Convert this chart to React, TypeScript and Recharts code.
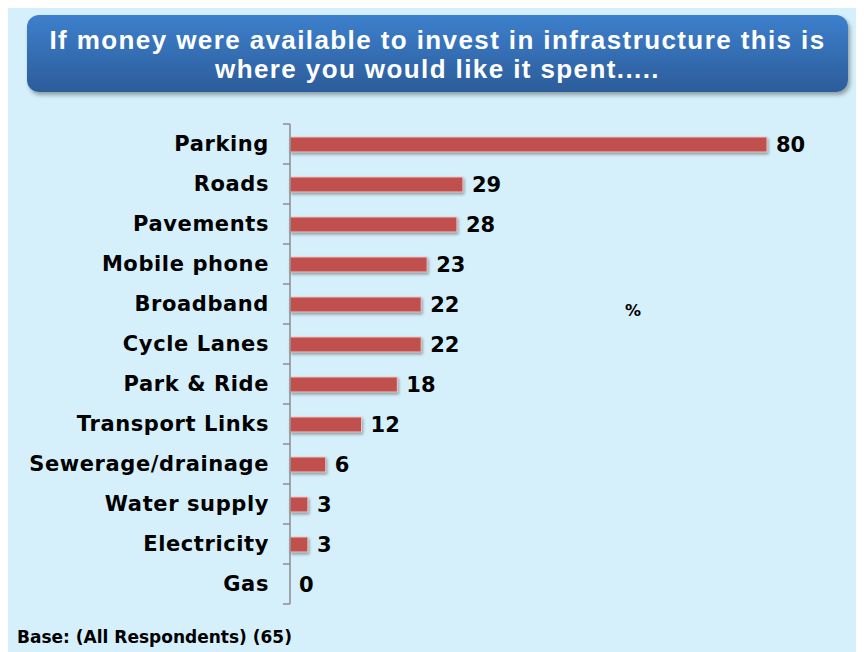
import { BarChart, Bar, XAxis, YAxis, LabelList } from 'recharts';

const categories = [
  'Parking',
  'Roads',
  'Pavements',
  'Mobile phone',
  'Broadband',
  'Cycle Lanes',
  'Park & Ride',
  'Transport Links',
  'Sewerage/drainage',
  'Water supply',
  'Electricity',
  'Gas',
];
const percentages = [80, 29, 28, 23, 22, 22, 18, 12, 6, 3, 3, 0];

const titleLines = [
  'If money were available to invest in infrastructure this is',
  'where you would like it spent.....',
];
const baseNote = 'Base: (All Respondents) (65)';
const unitLabel = '%';

const data = categories.map((name, i) => ({ name, value: percentages[i] }));

const FONT = '"DejaVu Sans", Verdana, sans-serif';
const BAND = 40;

const CategoryTick = (props: any) => {
  const { x, y, payload, index } = props;
  const axisX = x + 14 + 7;
  return (
    <g>
      <line x1={axisX - 7} x2={axisX} y1={y - BAND / 2} y2={y - BAND / 2} stroke="#8c8c8c" strokeWidth={1.5} />
      {index === categories.length - 1 && (
        <line x1={axisX - 7} x2={axisX} y1={y + BAND / 2} y2={y + BAND / 2} stroke="#8c8c8c" strokeWidth={1.5} />
      )}
      <text
        x={x}
        y={y}
        textAnchor="end"
        dominantBaseline="central"
        fill="#000"
        fontFamily={FONT}
        fontWeight="bold"
        fontSize={21}
        letterSpacing={0.6}
      >
        {payload.value}
      </text>
    </g>
  );
};

const ShadowBar = (props: any) => {
  const { x, y, width, height } = props;
  if (!width || width <= 0) return <g />;
  return (
    <rect
      x={x}
      y={y}
      width={width}
      height={height}
      fill="#C0504D"
      stroke="#F0C8C6"
      strokeWidth={1}
      style={{ filter: 'drop-shadow(1.5px 2px 1.5px rgba(0,0,0,0.35))' }}
    />
  );
};

export default function App() {
  return (
    <div
      style={{
        position: 'relative',
        marginTop: -4,
        width: 856,
        height: 648,
        background: '#D6F0FB',
        fontFamily: FONT,
      }}
    >
      <div
        style={{
          position: 'absolute',
          left: 19,
          top: 11,
          width: 821,
          height: 77,
          borderRadius: 12,
          background: 'linear-gradient(to bottom, #3D80CD, #2C5C9A)',
          boxShadow: '2px 3px 4px rgba(0,0,0,0.35)',
          color: '#fff',
          textAlign: 'center',
          fontFamily: '"Liberation Sans", Arial, sans-serif',
          fontWeight: 'bold',
          fontSize: 26,
          letterSpacing: 1.4,
          lineHeight: '29px',
          paddingTop: 11,
          boxSizing: 'border-box',
        }}
      >
        {titleLines.map((t) => (
          <div key={t}>{t}</div>
        ))}
      </div>

      <div style={{ position: 'absolute', left: 0, top: 0 }}>
        <BarChart
          width={856}
          height={640}
          data={data}
          layout="vertical"
          margin={{ top: 120, right: 97, bottom: 40, left: 0 }}
          barSize={15}
        >
          <XAxis type="number" domain={[0, 80]} hide />
          <YAxis
            type="category"
            dataKey="name"
            width={282}
            axisLine={{ stroke: '#8c8c8c', strokeWidth: 1.5 }}
            tickLine={false}
            tickSize={7}
            tickMargin={14}
            tick={<CategoryTick />}
            interval={0}
          />
          <Bar dataKey="value" isAnimationActive={false} shape={<ShadowBar />}>
            <LabelList
              dataKey="value"
              position="right"
              offset={9}
              fill="#000"
              fontFamily={FONT}
              fontWeight="bold"
              fontSize={21}
            />
          </Bar>
        </BarChart>
      </div>

      <div
        style={{
          position: 'absolute',
          left: 617,
          top: 297,
          fontWeight: 'bold',
          fontSize: 16,
          color: '#000',
        }}
      >
        {unitLabel}
      </div>

      <div
        style={{
          position: 'absolute',
          left: 9,
          top: 623,
          fontWeight: 'bold',
          fontSize: 17,
          color: '#000',
        }}
      >
        {baseNote}
      </div>
    </div>
  );
}
